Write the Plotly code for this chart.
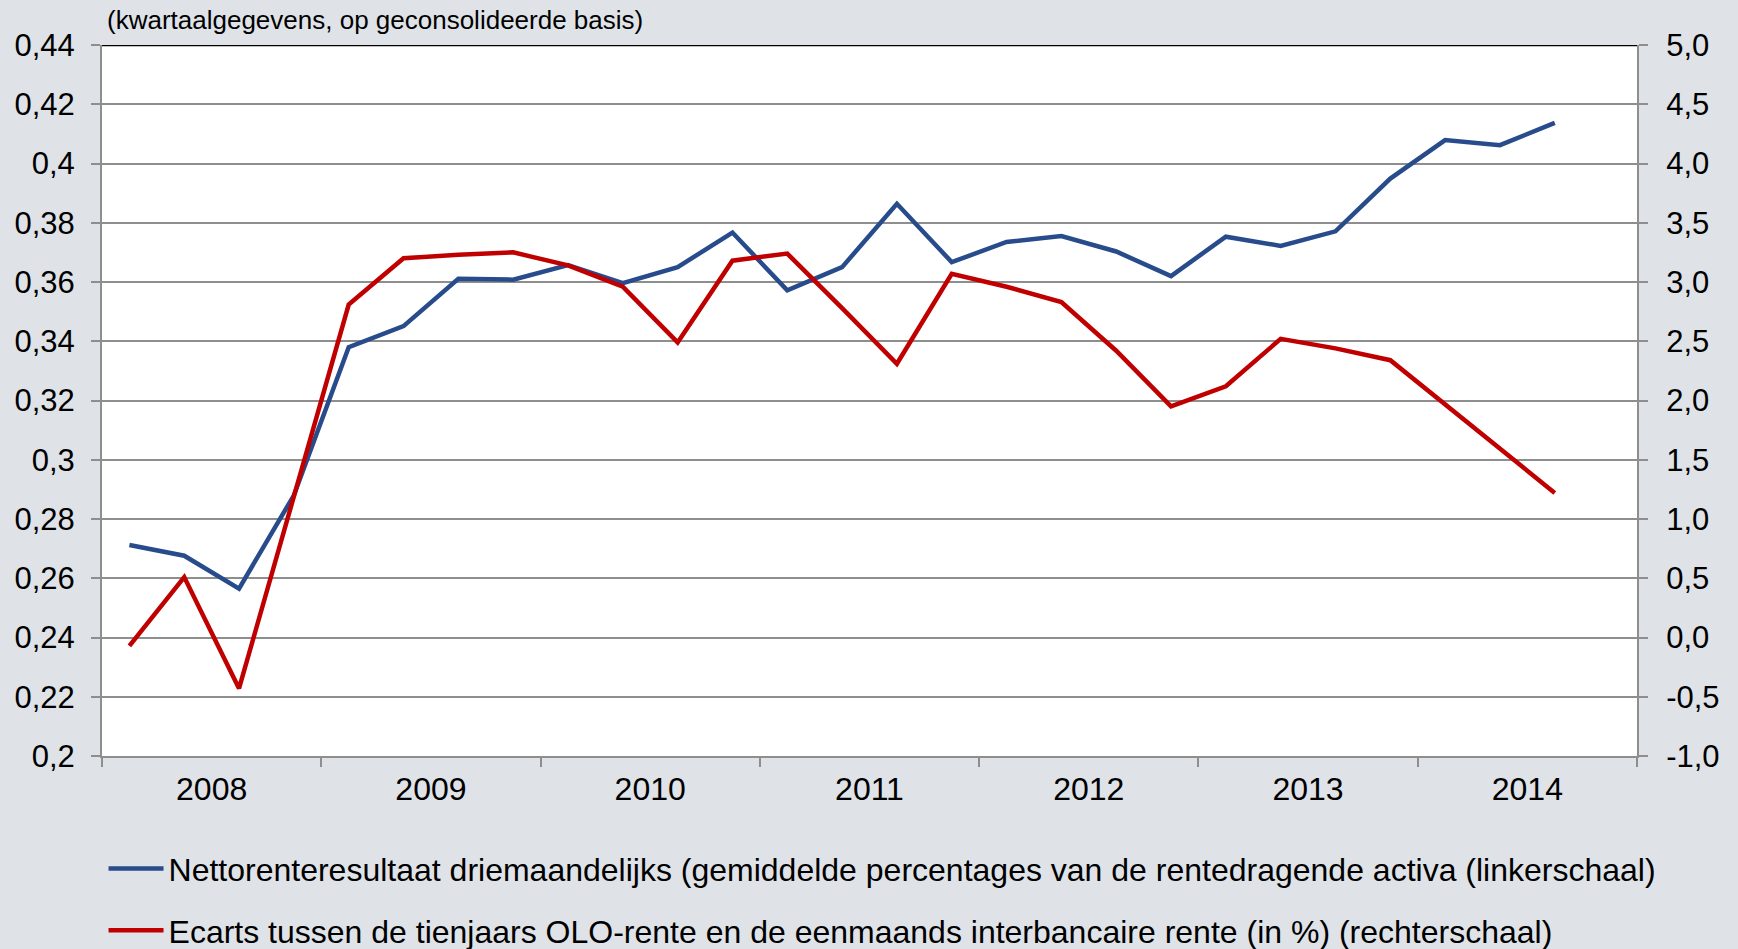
import plotly.graph_objects as go

# ---- data -------------------------------------------------------------
periods = ["2008K1", "2008K2", "2008K3", "2008K4",
           "2009K1", "2009K2", "2009K3", "2009K4",
           "2010K1", "2010K2", "2010K3", "2010K4",
           "2011K1", "2011K2", "2011K3", "2011K4",
           "2012K1", "2012K2", "2012K3", "2012K4",
           "2013K1", "2013K2", "2013K3", "2013K4",
           "2014K1", "2014K2", "2014K3"]

netto_rente = [0.2712, 0.2676, 0.2565, 0.2880,
               0.3380, 0.3451, 0.3611, 0.3608,
               0.3657, 0.3596, 0.3650, 0.3767,
               0.3572, 0.3650, 0.3864, 0.3667,
               0.3735, 0.3755, 0.3703, 0.3620,
               0.3753, 0.3722, 0.3771, 0.3949,
               0.4079, 0.4062, 0.4137]

ecart_olo = [-0.07, 0.51, -0.43, 1.20,
             2.81, 3.20, 3.23, 3.25,
             3.14, 2.96, 2.49, 3.18,
             3.24, 2.78, 2.31, 3.07,
             2.96, 2.83, 2.42, 1.95,
             2.12, 2.52, 2.44, 2.34,
             1.97, 1.59, 1.22]

year_labels = ["2008", "2009", "2010", "2011", "2012", "2013", "2014"]
left_ticks = [0.20, 0.22, 0.24, 0.26, 0.28, 0.30, 0.32, 0.34, 0.36, 0.38, 0.40, 0.42, 0.44]
right_ticks = [-1.0, -0.5, 0.0, 0.5, 1.0, 1.5, 2.0, 2.5, 3.0, 3.5, 4.0, 4.5, 5.0]

name_blue = "Nettorenteresultaat driemaandelijks (gemiddelde percentages van de rentedragende activa (linkerschaal)"
name_red = "Ecarts tussen de tienjaars OLO-rente en de eenmaands interbancaire rente (in %) (rechterschaal)"
subtitle = "(kwartaalgegevens, op geconsolideerde basis)"

# ---- helpers ----------------------------------------------------------
def period_to_x(p):
    year = int(p[:4])
    q = int(p[-1])
    return year + (q - 0.5) / 4.0

def fmt_left(v):
    s = ("%.2f" % v).rstrip("0").rstrip(".")
    return s.replace(".", ",")

def fmt_right(v):
    return ("%.1f" % v).replace(".", ",")

xs = [period_to_x(p) for p in periods]
year_nums = [int(y) for y in year_labels]
label_pos = [y + 0.5 for y in year_nums]
boundaries = year_nums + [year_nums[-1] + 1]

FONT = "Liberation Sans, Arial, sans-serif"
BG = "#DFE3E8"
GRID = "#8E8E8E"
BLUE = "#284B8C"
RED = "#C00000"

fig = go.Figure()
fig.add_trace(go.Scatter(x=xs, y=netto_rente, mode="lines", name=name_blue,
                         line=dict(color=BLUE, width=4.5), legendgroup="a"))
fig.add_trace(go.Scatter(x=xs, y=ecart_olo, mode="lines", name=name_red,
                         line=dict(color=RED, width=4.5), yaxis="y2", legendgroup="b"))

fig.update_layout(
    width=1738, height=949,
    paper_bgcolor=BG, plot_bgcolor="white",
    margin=dict(l=102, r=101, t=45, b=193, autoexpand=False),
    font=dict(family=FONT, color="black", size=29),
    showlegend=True,
    legend=dict(xref="paper", yref="paper",
                x=0.0010, y=-0.1200, xanchor="left", yanchor="top",
                bgcolor="rgba(0,0,0,0)", font=dict(size=32),
                tracegroupgap=17, itemwidth=55),
    xaxis=dict(range=[boundaries[0], boundaries[-1]],
               tickvals=label_pos, ticktext=year_labels,
               ticks="outside", ticklen=4, tickcolor="rgba(0,0,0,0)",
               tickfont=dict(size=32),
               showgrid=False, zeroline=False,
               showline=True, linecolor=GRID, linewidth=2,
               minor=dict(tickvals=boundaries, ticks="outside", ticklen=9,
                          tickcolor=GRID, tickwidth=2, showgrid=False)),
    yaxis=dict(range=[left_ticks[0], left_ticks[-1]],
               tickvals=left_ticks, ticktext=[fmt_left(v) for v in left_ticks],
               showgrid=True, gridcolor=GRID, gridwidth=1.5,
               zeroline=False, showline=True, linecolor=GRID, linewidth=2,
               ticks="outside", ticklen=9, tickcolor=GRID, tickwidth=2,
               ticklabelstandoff=10,
               tickfont=dict(size=31)),
    yaxis2=dict(range=[right_ticks[0], right_ticks[-1]],
                tickvals=right_ticks, ticktext=[fmt_right(v) for v in right_ticks],
                overlaying="y", side="right",
                showgrid=False, zeroline=False,
                showline=True, linecolor=GRID, linewidth=2,
                ticks="outside", ticklen=9, tickcolor=GRID, tickwidth=2,
                ticklabelstandoff=12,
                tickfont=dict(size=31)),
    shapes=[dict(type="line", xref="paper", yref="y", x0=0, x1=1,
                 y0=left_ticks[-1], y1=left_ticks[-1],
                 line=dict(color="black", width=2.5))],
    annotations=[dict(text=subtitle, xref="paper", yref="paper",
                      x=0.002, y=1.0, xanchor="left", yanchor="bottom",
                      yshift=8, showarrow=False, font=dict(size=26))],
)

fig.write_html("out.html", config={"displayModeBar": False},
               post_script="document.body.style.margin='0';")
